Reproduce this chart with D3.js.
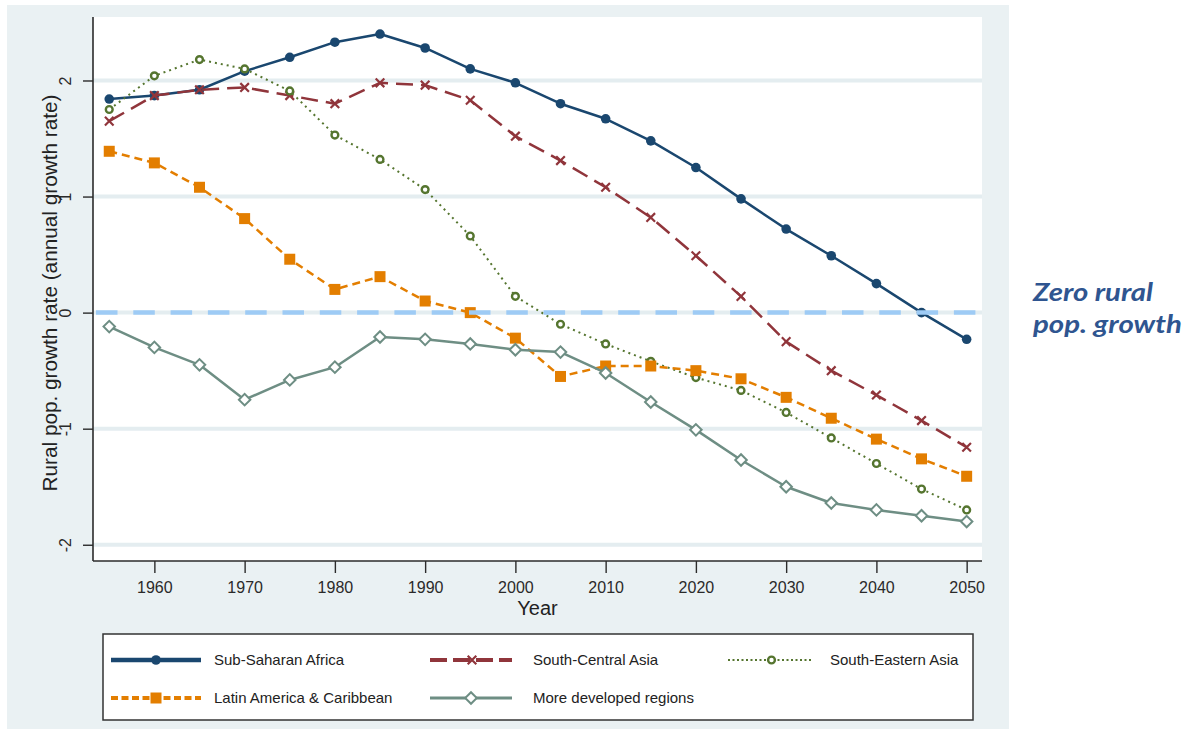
<!DOCTYPE html>
<html>
<head>
<meta charset="utf-8">
<script src="https://cdn.jsdelivr.net/npm/d3@7"></script>
<style>
  html, body { margin: 0; padding: 0; background: #ffffff; }
  svg { display: block; }
</style>
</head>
<body>
<svg id="chart" width="1189" height="729"></svg>
<script>
// ---------------- DATA ----------------
const years = [1955,1960,1965,1970,1975,1980,1985,1990,1995,2000,2005,2010,2015,2020,2025,2030,2035,2040,2045,2050];
const subSaharanAfrica   = [1.84,1.87,1.92,2.08,2.20,2.33,2.40,2.28,2.10,1.98,1.80,1.67,1.48,1.25,0.98,0.72,0.49,0.25,0.00,-0.23];
const southCentralAsia   = [1.65,1.87,1.92,1.94,1.87,1.80,1.98,1.96,1.83,1.52,1.31,1.08,0.82,0.49,0.14,-0.25,-0.50,-0.71,-0.93,-1.16];
const southEasternAsia   = [1.75,2.04,2.18,2.10,1.91,1.53,1.32,1.06,0.66,0.14,-0.10,-0.27,-0.42,-0.56,-0.67,-0.86,-1.08,-1.30,-1.52,-1.70];
const latinAmerica       = [1.39,1.29,1.08,0.81,0.46,0.20,0.31,0.10,0.00,-0.22,-0.55,-0.46,-0.46,-0.50,-0.57,-0.73,-0.91,-1.09,-1.26,-1.41];
const moreDeveloped      = [-0.12,-0.30,-0.45,-0.75,-0.58,-0.47,-0.21,-0.23,-0.27,-0.32,-0.34,-0.52,-0.77,-1.01,-1.27,-1.50,-1.64,-1.70,-1.75,-1.80];
const seriesNames = ["Sub-Saharan Africa","South-Central Asia","South-Eastern Asia","Latin America & Caribbean","More developed regions"];
const xTicks = [1960,1970,1980,1990,2000,2010,2020,2030,2040,2050];
const yTicks = [-2,-1,0,1,2];
const zeroLine = 0;
const xTitle = "Year";
const yTitle = "Rural pop. growth rate (annual growth rate)";
const noteLines = ["Zero rural", "pop. growth"];

// ---------------- STYLE ----------------
const panelColor = "#EAF1F3";
const gridColor = "#E4EDF0";
const styles = [
  {color:"#1A476F", dash:null,      width:2.5, lw:4.5, legDash:null,   marker:"circle"},
  {color:"#90353B", dash:"17,8",    width:2.5, lw:4,   legDash:"17,6", marker:"x"},
  {color:"#55752F", dash:"2,4",     width:2,   lw:2.2, legDash:"2,2.5",marker:"ocircle"},
  {color:"#E37E00", dash:"8,5",     width:2.5, lw:4,   legDash:"7,3.5",marker:"square"},
  {color:"#6E8E84", dash:null,      width:2.5, lw:3,   legDash:null,   marker:"diamond"}
];
const seriesValues = [subSaharanAfrica, southCentralAsia, southEasternAsia, latinAmerica, moreDeveloped];

const svg = d3.select("#chart");
const plot = {left:93, right:982, top:17, bottom:561};
const font = "'Liberation Sans', Arial, sans-serif";

// Background panel
svg.append("rect").attr("x",7).attr("y",5).attr("width",1002).attr("height",724).attr("fill",panelColor);
svg.append("rect").attr("x",plot.left).attr("y",plot.top)
  .attr("width",plot.right-plot.left).attr("height",plot.bottom-plot.top).attr("fill","#ffffff");

const x = d3.scaleLinear().domain([1953.2, 2051.7]).range([plot.left, plot.right]);
const y = d3.scaleLinear().domain([-2.14, 2.547]).range([plot.bottom, plot.top]);

// Gridlines
svg.append("g").selectAll("line").data(yTicks).join("line")
  .attr("x1",plot.left).attr("x2",plot.right)
  .attr("y1",d=>y(d)).attr("y2",d=>y(d))
  .attr("stroke",gridColor).attr("stroke-width",4);

// Axes
const xAxis = svg.append("g").attr("transform",`translate(0,${plot.bottom})`)
  .call(d3.axisBottom(x).tickValues(xTicks).tickSize(12).tickPadding(7).tickFormat(d => String(d)));
xAxis.select(".domain").attr("d",`M${plot.left},0H${plot.right}`).attr("stroke","#2b2b2b").attr("stroke-width",1.6);
xAxis.selectAll(".tick line").attr("stroke","#2b2b2b").attr("stroke-width",1.4);
xAxis.selectAll(".tick text").attr("font-family",font)
  .attr("font-size",16).attr("fill","#2a2a2a").attr("dy",null).attr("y",32);

const yAxis = svg.append("g").attr("transform",`translate(${plot.left},0)`)
  .call(d3.axisLeft(y).tickValues(yTicks).tickSize(10).tickFormat(d => String(d)));
yAxis.select(".domain").attr("d",`M0,${plot.top}V${plot.bottom}`).attr("stroke","#2b2b2b").attr("stroke-width",1.6);
yAxis.selectAll(".tick line").attr("stroke","#2b2b2b").attr("stroke-width",1.4);
yAxis.selectAll(".tick text").attr("font-family",font)
  .attr("font-size",16).attr("fill","#2a2a2a")
  .attr("transform","rotate(-90)").attr("x",0).attr("y",-22).attr("dy",null)
  .attr("text-anchor","middle");

// Axis titles
svg.append("text").attr("x",(plot.left+plot.right)/2).attr("y",615)
  .attr("text-anchor","middle").attr("font-family",font)
  .attr("font-size",20).attr("fill","#222").text(xTitle);
svg.append("text").attr("transform",`translate(57,${(plot.top+plot.bottom)/2+4}) rotate(-90)`)
  .attr("text-anchor","middle").attr("font-family",font)
  .attr("font-size",20).attr("fill","#222")
  .attr("textLength",397).attr("lengthAdjust","spacingAndGlyphs").text(yTitle);

// Marker drawing
function drawMarker(g, type, color, cx, cy) {
  if (type === "circle") {
    g.append("circle").attr("cx",cx).attr("cy",cy).attr("r",4.8).attr("fill",color);
  } else if (type === "ocircle") {
    g.append("circle").attr("cx",cx).attr("cy",cy).attr("r",3.4).attr("fill","#ffffff")
      .attr("stroke",color).attr("stroke-width",2.4);
  } else if (type === "square") {
    g.append("path").attr("d",d3.symbol(d3.symbolSquare,121)()).attr("transform",`translate(${cx},${cy})`).attr("fill",color);
  } else if (type === "diamond") {
    g.append("path").attr("d",d3.symbol(d3.symbolSquare,66)()).attr("transform",`translate(${cx},${cy}) rotate(45)`)
      .attr("fill","#ffffff").attr("stroke",color).attr("stroke-width",2);
  } else if (type === "x") {
    g.append("path").attr("d",d3.symbol(d3.symbolX,50)()).attr("transform",`translate(${cx},${cy})`)
      .attr("fill","none").attr("stroke",color).attr("stroke-width",2.2);
  }
}

// Series
const line = d3.line().x(d=>x(d[0])).y(d=>y(d[1]));
seriesValues.forEach((vals, i) => {
  const st = styles[i];
  const pts = years.map((yr, j) => [yr, vals[j]]);
  const g = svg.append("g");
  g.append("path").attr("d",line(pts)).attr("fill","none")
    .attr("stroke",st.color).attr("stroke-width",st.width)
    .attr("stroke-dasharray",st.dash).attr("stroke-linejoin","round");
  pts.forEach(p => drawMarker(g, st.marker, st.color, x(p[0]), y(p[1])));
});

// Zero growth line (on top)
svg.append("line").attr("x1",plot.left+3).attr("x2",plot.right)
  .attr("y1",y(zeroLine)).attr("y2",y(zeroLine))
  .attr("stroke","#9ECBF5").attr("stroke-width",4.5).attr("stroke-dasharray","21.5,15.8");

// Legend
svg.append("rect").attr("x",103).attr("y",634).attr("width",870).attr("height",86)
  .attr("fill","#ffffff").attr("stroke","#333").attr("stroke-width",1.5);
const legPos = [
  {x1:111, x2:201, tx:214, ty:660},
  {x1:430, x2:512, tx:533, ty:660},
  {x1:728, x2:813, tx:830, ty:660},
  {x1:111, x2:201, tx:214, ty:698},
  {x1:430, x2:512, tx:533, ty:698}
];
seriesNames.forEach((name, i) => {
  const st = styles[i], p = legPos[i];
  const g = svg.append("g");
  g.append("line").attr("x1",p.x1).attr("x2",p.x2).attr("y1",p.ty).attr("y2",p.ty)
    .attr("stroke",st.color).attr("stroke-width",st.lw).attr("stroke-dasharray",st.legDash);
  drawMarker(g, st.marker, st.color, (p.x1+p.x2)/2 + (i===1||i===2?1:0), p.ty);
  g.append("text").attr("x",p.tx).attr("y",p.ty+5).attr("font-family",font)
    .attr("font-size",15).attr("fill","#222").text(name);
});

// Annotation
const note = svg.append("text").attr("font-family","Lato, 'Open Sans', sans-serif")
  .attr("font-weight",700).attr("font-style","italic").attr("font-size",25).attr("fill","#2F5590");
note.append("tspan").attr("x",1033).attr("y",301).attr("textLength",120).attr("lengthAdjust","spacingAndGlyphs").text(noteLines[0]);
note.append("tspan").attr("x",1033).attr("y",333).attr("textLength",149).attr("lengthAdjust","spacingAndGlyphs").text(noteLines[1]);
</script>
</body>
</html>
